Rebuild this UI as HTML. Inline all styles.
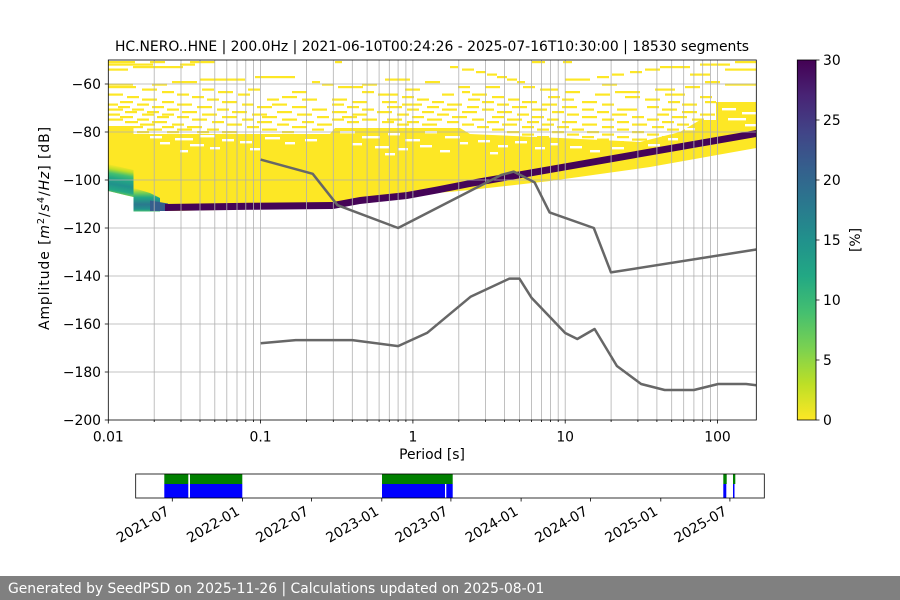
<!DOCTYPE html>
<html><head><meta charset="utf-8"><style>
html,body{margin:0;padding:0;background:#fff;}
svg{display:block;font-family:"DejaVu Sans","Liberation Sans",sans-serif;}
</style></head><body>
<svg width="900" height="600" viewBox="0 0 900 600" xmlns="http://www.w3.org/2000/svg">
<defs>
<clipPath id="ax"><rect x="108.3" y="60" width="648" height="360"/></clipPath>
<linearGradient id="cb" x1="0" y1="0" x2="0" y2="1">
<stop offset="0" stop-color="#440154"/><stop offset="0.1" stop-color="#482475"/><stop offset="0.2" stop-color="#414487"/><stop offset="0.3" stop-color="#355f8d"/><stop offset="0.4" stop-color="#2a788e"/><stop offset="0.5" stop-color="#21918c"/><stop offset="0.6" stop-color="#22a884"/><stop offset="0.7" stop-color="#44bf70"/><stop offset="0.8" stop-color="#7ad151"/><stop offset="0.9" stop-color="#bddf26"/><stop offset="1" stop-color="#fde725"/>
</linearGradient>
<linearGradient id="gA" gradientUnits="userSpaceOnUse" x1="121" y1="166" x2="116" y2="195">
<stop offset="0" stop-color="#fde725"/><stop offset="0.15" stop-color="#bddf26"/><stop offset="0.3" stop-color="#44bf70"/><stop offset="0.45" stop-color="#22a884"/><stop offset="0.65" stop-color="#21918c"/><stop offset="0.85" stop-color="#22a884"/><stop offset="1" stop-color="#7ad151"/>
</linearGradient>
<linearGradient id="gB" gradientUnits="userSpaceOnUse" x1="0" y1="188" x2="0" y2="211.5">
<stop offset="0" stop-color="#fde725"/><stop offset="0.2" stop-color="#7ad151"/><stop offset="0.4" stop-color="#22a884"/><stop offset="0.7" stop-color="#2a788e"/><stop offset="0.9" stop-color="#21918c"/><stop offset="1" stop-color="#44bf70"/>
</linearGradient>
</defs>
<rect x="0" y="0" width="900" height="600" fill="#fff"/>

<text x="432" y="51" font-size="13.9" text-anchor="middle" fill="#000">HC.NERO..HNE | 200.0Hz | 2021-06-10T00:24:26 - 2025-07-16T10:30:00 | 18530 segments</text>

<g clip-path="url(#ax)">
<g fill="#fde725">
<rect x="108" y="61" width="27" height="2.2"/><rect x="150" y="61" width="15" height="2.2"/><rect x="190" y="61" width="25" height="2.2"/><rect x="335" y="61" width="7" height="2.2"/><rect x="532" y="61" width="13" height="2.2"/><rect x="563" y="61" width="9" height="2.2"/><rect x="735" y="61" width="21" height="2.2"/>
<rect x="108" y="63.5" width="45" height="2.2"/><rect x="180" y="63.5" width="15" height="2.2"/><rect x="700" y="63.5" width="30" height="2.2"/>
<rect x="133" y="66" width="50" height="2.2"/><rect x="450" y="66" width="8" height="2.2"/><rect x="660" y="66" width="30" height="2.2"/>
<rect x="108" y="68.5" width="20" height="2.2"/><rect x="462" y="68.5" width="12" height="2.2"/><rect x="645" y="68.5" width="15" height="2.2"/><rect x="725" y="68.5" width="31" height="2.2"/>
<rect x="476" y="71" width="10" height="2.2"/><rect x="630" y="71" width="12" height="2.2"/>
<rect x="487" y="73.5" width="10" height="2.2"/><rect x="612" y="73.5" width="12" height="2.2"/><rect x="690" y="73.5" width="20" height="2.2"/>
<rect x="255" y="76" width="40" height="2.2"/><rect x="497" y="76" width="10" height="2.2"/><rect x="597" y="76" width="12" height="2.2"/>
<rect x="200" y="78.5" width="45" height="2.2"/><rect x="385" y="78.5" width="25" height="2.2"/><rect x="507" y="78.5" width="10" height="2.2"/><rect x="565" y="78.5" width="25" height="2.2"/>
<rect x="172" y="81" width="25" height="2.2"/><rect x="312" y="81" width="8" height="2.2"/><rect x="425" y="81" width="15" height="2.2"/><rect x="517" y="81" width="8" height="2.2"/><rect x="705" y="81" width="15" height="2.2"/>
<rect x="108" y="83.5" width="25" height="2.2"/><rect x="152" y="83.5" width="15" height="2.2"/><rect x="322" y="83.5" width="12" height="2.2"/><rect x="362" y="83.5" width="15" height="2.2"/><rect x="602" y="83.5" width="15" height="2.2"/><rect x="725" y="83.5" width="31" height="2.2"/>
<rect x="108" y="86" width="28" height="2.2"/><rect x="338" y="86" width="25" height="2.2"/><rect x="458" y="86" width="12" height="2.2"/><rect x="485" y="86" width="15" height="2.2"/><rect x="523" y="86" width="12" height="2.2"/><rect x="685" y="86" width="15" height="2.2"/>
<rect x="142" y="88.5" width="15" height="2.2"/><rect x="202" y="88.5" width="12" height="2.2"/><rect x="248" y="88.5" width="12" height="2.2"/><rect x="405" y="88.5" width="15" height="2.2"/><rect x="540" y="88.5" width="18" height="2.2"/><rect x="655" y="88.5" width="20" height="2.2"/>
<rect x="162" y="91" width="12" height="2.2"/><rect x="218" y="91" width="15" height="2.2"/><rect x="292" y="91" width="15" height="2.2"/><rect x="362" y="91" width="12" height="2.2"/><rect x="462" y="91" width="8" height="2.2"/><rect x="565" y="91" width="15" height="2.2"/><rect x="615" y="91" width="25" height="2.2"/>
<rect x="108" y="93.5" width="15" height="2.2"/><rect x="177" y="93.5" width="12" height="2.2"/><rect x="238" y="93.5" width="12" height="2.2"/><rect x="378" y="93.5" width="20" height="2.2"/><rect x="442" y="93.5" width="12" height="2.2"/><rect x="472" y="93.5" width="15" height="2.2"/><rect x="595" y="93.5" width="15" height="2.2"/><rect x="665" y="93.5" width="20" height="2.2"/>
<rect x="127" y="96" width="12" height="2.2"/><rect x="192" y="96" width="12" height="2.2"/><rect x="282" y="96" width="15" height="2.2"/><rect x="402" y="96" width="12" height="2.2"/><rect x="492" y="96" width="12" height="2.2"/><rect x="548" y="96" width="12" height="2.2"/><rect x="625" y="96" width="15" height="2.2"/><rect x="700" y="96" width="12" height="2.2"/>
<rect x="142" y="98.5" width="15" height="2.2"/><rect x="207" y="98.5" width="12" height="2.2"/><rect x="267" y="98.5" width="12" height="2.2"/><rect x="302" y="98.5" width="15" height="2.2"/><rect x="332" y="98.5" width="15" height="2.2"/><rect x="417" y="98.5" width="12" height="2.2"/><rect x="468" y="98.5" width="12" height="2.2"/><rect x="508" y="98.5" width="12" height="2.2"/><rect x="562" y="98.5" width="12" height="2.2"/><rect x="645" y="98.5" width="15" height="2.2"/>
<rect x="120" y="101" width="13" height="2.2"/><rect x="162" y="101" width="12" height="2.2"/><rect x="222" y="101" width="15" height="2.2"/><rect x="352" y="101" width="15" height="2.2"/><rect x="382" y="101" width="15" height="2.2"/><rect x="432" y="101" width="12" height="2.2"/><rect x="482" y="101" width="12" height="2.2"/><rect x="522" y="101" width="15" height="2.2"/><rect x="582" y="101" width="15" height="2.2"/><rect x="668" y="101" width="12" height="2.2"/><rect x="705" y="101" width="11" height="2.2"/>
<rect x="108" y="103.5" width="10" height="2.2"/><rect x="137" y="103.5" width="12" height="2.2"/><rect x="177" y="103.5" width="15" height="2.2"/><rect x="242" y="103.5" width="12" height="2.2"/><rect x="272" y="103.5" width="15" height="2.2"/><rect x="332" y="103.5" width="12" height="2.2"/><rect x="402" y="103.5" width="20" height="2.2"/><rect x="447" y="103.5" width="15" height="2.2"/><rect x="497" y="103.5" width="12" height="2.2"/><rect x="542" y="103.5" width="15" height="2.2"/><rect x="602" y="103.5" width="12" height="2.2"/><rect x="682" y="103.5" width="15" height="2.2"/>
<rect x="118" y="106" width="12" height="2.2"/><rect x="152" y="106" width="12" height="2.2"/><rect x="197" y="106" width="15" height="2.2"/><rect x="257" y="106" width="15" height="2.2"/><rect x="292" y="106" width="15" height="2.2"/><rect x="347" y="106" width="12" height="2.2"/><rect x="387" y="106" width="15" height="2.2"/><rect x="427" y="106" width="12" height="2.2"/><rect x="467" y="106" width="12" height="2.2"/><rect x="512" y="106" width="15" height="2.2"/><rect x="562" y="106" width="15" height="2.2"/><rect x="647" y="106" width="12" height="2.2"/>
<rect x="108" y="108.5" width="15" height="2.2"/><rect x="132" y="108.5" width="12" height="2.2"/><rect x="167" y="108.5" width="12" height="2.2"/><rect x="217" y="108.5" width="12" height="2.2"/><rect x="312" y="108.5" width="15" height="2.2"/><rect x="362" y="108.5" width="12" height="2.2"/><rect x="407" y="108.5" width="12" height="2.2"/><rect x="442" y="108.5" width="15" height="2.2"/><rect x="482" y="108.5" width="12" height="2.2"/><rect x="532" y="108.5" width="15" height="2.2"/><rect x="582" y="108.5" width="12" height="2.2"/><rect x="617" y="108.5" width="20" height="2.2"/><rect x="662" y="108.5" width="15" height="2.2"/>
<rect x="125" y="111" width="12" height="2.2"/><rect x="147" y="111" width="12" height="2.2"/><rect x="182" y="111" width="15" height="2.2"/><rect x="232" y="111" width="15" height="2.2"/><rect x="277" y="111" width="15" height="2.2"/><rect x="332" y="111" width="15" height="2.2"/><rect x="377" y="111" width="15" height="2.2"/><rect x="422" y="111" width="12" height="2.2"/><rect x="462" y="111" width="15" height="2.2"/><rect x="497" y="111" width="15" height="2.2"/><rect x="552" y="111" width="12" height="2.2"/><rect x="597" y="111" width="12" height="2.2"/><rect x="682" y="111" width="15" height="2.2"/>
<rect x="108" y="113.5" width="12" height="2.2"/><rect x="142" y="113.5" width="12" height="2.2"/><rect x="162" y="113.5" width="12" height="2.2"/><rect x="202" y="113.5" width="15" height="2.2"/><rect x="252" y="113.5" width="15" height="2.2"/><rect x="297" y="113.5" width="15" height="2.2"/><rect x="352" y="113.5" width="15" height="2.2"/><rect x="397" y="113.5" width="12" height="2.2"/><rect x="437" y="113.5" width="12" height="2.2"/><rect x="517" y="113.5" width="12" height="2.2"/><rect x="567" y="113.5" width="12" height="2.2"/><rect x="612" y="113.5" width="15" height="2.2"/><rect x="657" y="113.5" width="12" height="2.2"/><rect x="700" y="113.5" width="15" height="2.2"/>
<rect x="120" y="116" width="13" height="2.2"/><rect x="157" y="116" width="12" height="2.2"/><rect x="177" y="116" width="12" height="2.2"/><rect x="222" y="116" width="15" height="2.2"/><rect x="262" y="116" width="15" height="2.2"/><rect x="317" y="116" width="12" height="2.2"/><rect x="342" y="116" width="15" height="2.2"/><rect x="412" y="116" width="12" height="2.2"/><rect x="452" y="116" width="15" height="2.2"/><rect x="492" y="116" width="12" height="2.2"/><rect x="532" y="116" width="12" height="2.2"/><rect x="582" y="116" width="15" height="2.2"/><rect x="632" y="116" width="12" height="2.2"/><rect x="672" y="116" width="15" height="2.2"/>
<rect x="108" y="118.5" width="15" height="2.2"/><rect x="137" y="118.5" width="12" height="2.2"/><rect x="192" y="118.5" width="15" height="2.2"/><rect x="242" y="118.5" width="12" height="2.2"/><rect x="282" y="118.5" width="15" height="2.2"/><rect x="332" y="118.5" width="12" height="2.2"/><rect x="362" y="118.5" width="15" height="2.2"/><rect x="387" y="118.5" width="15" height="2.2"/><rect x="427" y="118.5" width="15" height="2.2"/><rect x="472" y="118.5" width="12" height="2.2"/><rect x="507" y="118.5" width="15" height="2.2"/><rect x="547" y="118.5" width="12" height="2.2"/><rect x="602" y="118.5" width="12" height="2.2"/><rect x="647" y="118.5" width="12" height="2.2"/><rect x="692" y="118.5" width="12" height="2.2"/>
<rect x="125" y="121" width="13" height="2.2"/><rect x="152" y="121" width="15" height="2.2"/><rect x="212" y="121" width="12" height="2.2"/><rect x="257" y="121" width="15" height="2.2"/><rect x="302" y="121" width="12" height="2.2"/><rect x="347" y="121" width="12" height="2.2"/><rect x="382" y="121" width="12" height="2.2"/><rect x="407" y="121" width="12" height="2.2"/><rect x="447" y="121" width="12" height="2.2"/><rect x="487" y="121" width="12" height="2.2"/><rect x="527" y="121" width="12" height="2.2"/><rect x="562" y="121" width="15" height="2.2"/><rect x="617" y="121" width="12" height="2.2"/><rect x="662" y="121" width="12" height="2.2"/>
<rect x="140" y="123.5" width="15" height="2.2"/><rect x="172" y="123.5" width="12" height="2.2"/><rect x="227" y="123.5" width="15" height="2.2"/><rect x="277" y="123.5" width="12" height="2.2"/><rect x="317" y="123.5" width="15" height="2.2"/><rect x="397" y="123.5" width="12" height="2.2"/><rect x="422" y="123.5" width="15" height="2.2"/><rect x="462" y="123.5" width="12" height="2.2"/><rect x="502" y="123.5" width="15" height="2.2"/><rect x="542" y="123.5" width="12" height="2.2"/><rect x="582" y="123.5" width="15" height="2.2"/><rect x="632" y="123.5" width="15" height="2.2"/><rect x="677" y="123.5" width="12" height="2.2"/>
<rect x="130" y="126" width="13" height="2.2"/><rect x="162" y="126" width="12" height="2.2"/><rect x="187" y="126" width="15" height="2.2"/><rect x="247" y="126" width="12" height="2.2"/><rect x="292" y="126" width="15" height="2.2"/><rect x="477" y="126" width="12" height="2.2"/><rect x="522" y="126" width="12" height="2.2"/><rect x="557" y="126" width="12" height="2.2"/><rect x="602" y="126" width="12" height="2.2"/><rect x="652" y="126" width="12" height="2.2"/><rect x="690" y="126" width="10" height="2.2"/>
<rect x="147" y="128.5" width="15" height="2.2"/><rect x="177" y="128.5" width="15" height="2.2"/><rect x="207" y="128.5" width="12" height="2.2"/><rect x="262" y="128.5" width="15" height="2.2"/><rect x="312" y="128.5" width="12" height="2.2"/><rect x="492" y="128.5" width="12" height="2.2"/><rect x="537" y="128.5" width="12" height="2.2"/><rect x="572" y="128.5" width="12" height="2.2"/><rect x="617" y="128.5" width="12" height="2.2"/><rect x="667" y="128.5" width="12" height="2.2"/>
<rect x="137" y="131" width="12" height="2.2"/><rect x="167" y="131" width="12" height="2.2"/><rect x="197" y="131" width="12" height="2.2"/><rect x="222" y="131" width="15" height="2.2"/><rect x="282" y="131" width="12" height="2.2"/><rect x="507" y="131" width="12" height="2.2"/><rect x="552" y="131" width="12" height="2.2"/><rect x="587" y="131" width="12" height="2.2"/><rect x="632" y="131" width="12" height="2.2"/>
<rect x="522" y="133.5" width="12" height="2.2"/><rect x="567" y="133.5" width="12" height="2.2"/><rect x="602" y="133.5" width="12" height="2.2"/><rect x="647" y="133.5" width="12" height="2.2"/>
<rect x="537" y="136" width="12" height="2.2"/><rect x="582" y="136" width="12" height="2.2"/><rect x="617" y="136" width="12" height="2.2"/><rect x="662" y="136" width="15" height="2.2"/>
<rect x="552" y="138.5" width="12" height="2.2"/><rect x="597" y="138.5" width="12" height="2.2"/><rect x="632" y="138.5" width="15" height="2.2"/>
<rect x="567" y="141" width="12" height="2.2"/><rect x="612" y="141" width="12" height="2.2"/><rect x="647" y="141" width="12" height="2.2"/>
<rect x="582" y="143.5" width="12" height="2.2"/><rect x="622" y="143.5" width="12" height="2.2"/>
</g>

<polygon fill="#fde725" points="108.3,126 133.5,126 133.5,134 170,134 260,134 330,134 335,128 460,128 470,134 560,138 640,142 680,132 700,120 716,120 716,102 756.3,102 756.3,148 650,167 550,181 470,190 437,193 407,198.5 360,203.5 333,208.5 250,209.3 175,211 133.5,211 133.5,197 108.3,191"/>

<g fill="#fff">
<rect x="150" y="136" width="12" height="2.4"/><rect x="175" y="138" width="18" height="2.4"/><rect x="200" y="135" width="15" height="2.4"/><rect x="222" y="139" width="12" height="2.4"/><rect x="160" y="142" width="10" height="2.4"/><rect x="190" y="144" width="14" height="2.4"/><rect x="210" y="147" width="10" height="2.4"/><rect x="240" y="141" width="12" height="2.4"/><rect x="265" y="137" width="15" height="2.4"/><rect x="285" y="142" width="10" height="2.4"/><rect x="305" y="139" width="12" height="2.4"/><rect x="180" y="150" width="8" height="2.4"/><rect x="250" y="148" width="10" height="2.4"/>
<rect x="340" y="131" width="15" height="2.4"/><rect x="362" y="136" width="18" height="2.4"/><rect x="388" y="133" width="12" height="2.4"/><rect x="405" y="139" width="15" height="2.4"/><rect x="425" y="131" width="12" height="2.4"/><rect x="445" y="136" width="15" height="2.4"/><rect x="352" y="143" width="10" height="2.4"/><rect x="375" y="146" width="14" height="2.4"/><rect x="398" y="148" width="10" height="2.4"/><rect x="420" y="145" width="12" height="2.4"/><rect x="440" y="150" width="10" height="2.4"/><rect x="460" y="142" width="8" height="2.4"/><rect x="385" y="153" width="10" height="2.4"/>
<rect x="478" y="140" width="12" height="2.4"/><rect x="498" y="145" width="10" height="2.4"/><rect x="515" y="141" width="12" height="2.4"/><rect x="535" y="147" width="10" height="2.4"/><rect x="550" y="143" width="8" height="2.4"/><rect x="490" y="152" width="8" height="2.4"/>
<rect x="570" y="146" width="12" height="2.4"/><rect x="590" y="150" width="10" height="2.4"/><rect x="612" y="147" width="12" height="2.4"/><rect x="630" y="152" width="8" height="2.4"/><rect x="648" y="144" width="12" height="2.4"/><rect x="668" y="138" width="10" height="2.4"/><rect x="685" y="128" width="10" height="2.4"/>
<rect x="722" y="108" width="14" height="2.4"/><rect x="742" y="112" width="14" height="2.4"/><rect x="728" y="118" width="18" height="2.4"/><rect x="745" y="124" width="11" height="2.4"/>
</g>

<polygon fill="url(#gA)" points="108.3,164 133.5,170 133.5,197 108.3,191"/>
<polygon fill="url(#gB)" points="133.5,188 150,193 160,198 160,211.5 133.5,211.5"/>
<polygon fill="#355f8d" points="150,200.5 168,203.5 168,211 150,211"/>

<polygon fill="#450457" points="165,204 250,202.8 333,202 360,197 407,192 437,186.5 470,180 756.3,130 756.3,137 470,187 437,193.5 407,199 360,204 333,209 250,209.8 165,211"/>

<g stroke="#b0b0b0" stroke-width="0.8" fill="none">
<path d="M154.2 60V420M181 60V420M200 60V420M214.8 60V420M226.8 60V420M237 60V420M245.8 60V420M253.6 60V420M260.6 60V420M306.5 60V420M333.3 60V420M352.3 60V420M367.1 60V420M379.1 60V420M389.3 60V420M398.1 60V420M405.9 60V420M412.9 60V420M458.8 60V420M485.6 60V420M504.6 60V420M519.4 60V420M531.4 60V420M541.6 60V420M550.4 60V420M558.2 60V420M565.2 60V420M611.1 60V420M637.9 60V420M656.9 60V420M671.7 60V420M683.7 60V420M693.9 60V420M702.7 60V420M710.5 60V420M717.5 60V420"/>
<path d="M108.3 84H756.3M108.3 132H756.3M108.3 180H756.3M108.3 228H756.3M108.3 276H756.3M108.3 324H756.3M108.3 372H756.3"/>
</g>

<g stroke="#676767" stroke-width="2.5" fill="none" stroke-linejoin="round">
<polyline points="260.6,159.6 312.7,173.8 337.5,205.2 398.1,228 501.2,175 513.8,171.6 534.6,182.4 549.6,212.4 593.8,228 611,272.4 756.3,249.5"/>
<polyline points="260.6,343.2 295.7,340.1 352.3,340.1 398.1,346.1 427.1,332.9 470.8,296.6 509.4,278.6 519.4,278.6 531.4,297.6 565.2,333 577.3,339 594.6,329 616.9,366 641.1,384 664.7,390 693.9,390 718.2,384 746.1,384 756.3,385.2"/>
</g>
</g>

<rect x="108.3" y="60" width="648" height="360" fill="none" stroke="#000" stroke-width="0.8"/>
<g stroke="#000" stroke-width="0.8">
<path d="M108.3 420v3.5M260.6 420v3.5M412.9 420v3.5M565.2 420v3.5M717.5 420v3.5"/>
<path d="M154.2 420v2M181 420v2M200 420v2M214.8 420v2M226.8 420v2M237 420v2M245.8 420v2M253.6 420v2M306.5 420v2M333.3 420v2M352.3 420v2M367.1 420v2M379.1 420v2M389.3 420v2M398.1 420v2M405.9 420v2M458.8 420v2M485.6 420v2M504.6 420v2M519.4 420v2M531.4 420v2M541.6 420v2M550.4 420v2M558.2 420v2M611.1 420v2M637.9 420v2M656.9 420v2M671.7 420v2M683.7 420v2M693.9 420v2M702.7 420v2M710.5 420v2"/>
<path d="M108.3 84h-3.5M108.3 132h-3.5M108.3 180h-3.5M108.3 228h-3.5M108.3 276h-3.5M108.3 324h-3.5M108.3 372h-3.5M108.3 420h-3.5"/>
</g>
<g font-size="13.9" fill="#000" text-anchor="middle">
<text x="108.3" y="441.7">0.01</text><text x="260.6" y="441.7">0.1</text><text x="412.9" y="441.7">1</text><text x="565.2" y="441.7">10</text><text x="717.5" y="441.7">100</text>
</g>
<g font-size="13.9" fill="#000" text-anchor="end">
<text x="101" y="89">−60</text><text x="101" y="137">−80</text><text x="101" y="185">−100</text><text x="101" y="233">−120</text><text x="101" y="281">−140</text><text x="101" y="329">−160</text><text x="101" y="377">−180</text><text x="101" y="425">−200</text>
</g>
<text x="432" y="459" font-size="13.9" text-anchor="middle">Period [s]</text>
<text transform="translate(49,330) rotate(-90)" font-size="13.9" textLength="203" lengthAdjust="spacing">Amplitude [<tspan font-style="italic">m</tspan><tspan font-size="9.7" dy="-5">2</tspan><tspan dy="5">/</tspan><tspan font-style="italic">s</tspan><tspan font-size="9.7" dy="-5">4</tspan><tspan dy="5">/</tspan><tspan font-style="italic">Hz</tspan>] [dB]</text>

<rect x="797.3" y="60" width="18.7" height="360" fill="url(#cb)"/>
<rect x="797.3" y="60" width="18.7" height="360" fill="none" stroke="#000" stroke-width="0.8"/>
<g stroke="#000" stroke-width="0.8"><path d="M816 60h3.5M816 120h3.5M816 180h3.5M816 240h3.5M816 300h3.5M816 360h3.5M816 420h3.5"/></g>
<g font-size="13.9" fill="#000">
<text x="823" y="65">30</text><text x="823" y="125">25</text><text x="823" y="185">20</text><text x="823" y="245">15</text><text x="823" y="305">10</text><text x="823" y="365">5</text><text x="823" y="425">0</text>
</g>
<text transform="translate(860,240) rotate(-90)" font-size="13.9" text-anchor="middle">[%]</text>

<g>
<rect x="164.3" y="474" width="78" height="10" fill="#008000"/>
<rect x="164.3" y="484" width="78" height="14" fill="#0000ff"/>
<rect x="188.3" y="474" width="1.7" height="24" fill="#fff"/>
<rect x="382" y="474" width="70.7" height="10" fill="#008000"/>
<rect x="382" y="484" width="70.7" height="14" fill="#0000ff"/>
<rect x="445" y="484" width="1.3" height="14" fill="#fff"/>
<rect x="723.3" y="474" width="3.4" height="10" fill="#008000"/>
<rect x="723.3" y="484" width="3" height="14" fill="#0000ff"/>
<rect x="733" y="474" width="2.3" height="10" fill="#008000"/>
<rect x="733" y="484" width="1.5" height="14" fill="#0000ff"/>
</g>
<rect x="135.7" y="474" width="628.6" height="24" fill="none" stroke="#000" stroke-width="0.8"/>
<g stroke="#000" stroke-width="0.8"><path d="M172.3 498v3.5M242.5 498v3.5M311.6 498v3.5M381.8 498v3.5M450.9 498v3.5M521.1 498v3.5M590.6 498v3.5M660.8 498v3.5M729.9 498v3.5"/></g>
<g font-size="13.9" fill="#000" text-anchor="end">
<text transform="translate(170.3,514) rotate(-30)">2021-07</text>
<text transform="translate(240.5,514) rotate(-30)">2022-01</text>
<text transform="translate(309.6,514) rotate(-30)">2022-07</text>
<text transform="translate(379.8,514) rotate(-30)">2023-01</text>
<text transform="translate(448.9,514) rotate(-30)">2023-07</text>
<text transform="translate(519.1,514) rotate(-30)">2024-01</text>
<text transform="translate(588.6,514) rotate(-30)">2024-07</text>
<text transform="translate(658.8,514) rotate(-30)">2025-01</text>
<text transform="translate(727.9,514) rotate(-30)">2025-07</text>
</g>

<rect x="0" y="576" width="900" height="24" fill="#808080"/>
<text x="8" y="593" font-size="13.9" fill="#fff">Generated by SeedPSD on 2025-11-26 | Calculations updated on 2025-08-01</text>
</svg>
</body></html>
